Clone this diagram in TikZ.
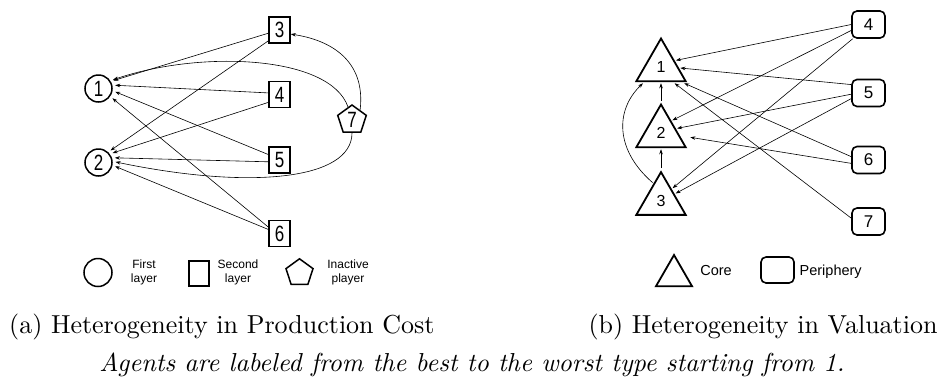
\documentclass[tikz,border=0pt]{standalone}
\usepackage{fontspec}
\newfontfamily\arialf{Liberation Sans}
\usetikzlibrary{arrows.meta,shapes.geometric}
\newcommand{\vst}[1]{\scalebox{1}[1.3]{#1}}
\begin{document}
\begin{tikzpicture}[x=1pt,y=-1pt,
  circ/.style={circle,draw,line width=1.5pt,minimum size=27pt,inner sep=0pt,font=\arialf\fontsize{17}{17}\selectfont},
  sq/.style={rectangle,draw,line width=1.6pt,minimum width=21pt,minimum height=26pt,inner sep=0pt,font=\arialf\fontsize{17}{17}\selectfont},
  pent/.style={regular polygon,regular polygon sides=5,draw,line width=1.5pt,minimum size=30pt,inner sep=0pt,font=\arialf\fontsize{17}{17}\selectfont},
  tri/.style={regular polygon,regular polygon sides=3,draw,line width=1.8pt,minimum size=57pt,inner sep=0pt,font=\arialf\fontsize{16}{16}\selectfont},
  rbox/.style={rectangle,rounded corners=5pt,draw,line width=1.6pt,minimum width=33pt,minimum height=27pt,inner sep=0pt,font=\arialf\fontsize{17}{17}\selectfont},
  edge/.style={-{Stealth[length=5pt,width=3.5pt]},line width=0.6pt},
  leg/.style={align=center,font=\arialf\fontsize{12}{14}\selectfont},
  legb/.style={font=\arialf\fontsize{14.5}{16}\selectfont},
  captxt/.style={font=\fontsize{10}{12}\selectfont,inner sep=0pt,scale=2.6}
]
\useasboundingbox (0,0) rectangle (939,376);
% ---------- left panel ----------
\node[circ,outer sep=3.5pt] (c1) at (98.5,88.5) {\vst{1}};
\node[circ,outer sep=3.5pt] (c2) at (98.5,162.5) {\vst{2}};
\node[sq] (s3) at (279.5,30) {\vst{3}};
\node[sq] (s4) at (279.5,94.5) {\vst{4}};
\node[sq] (s5) at (279.5,160) {\vst{5}};
\node[sq] (s6) at (279.5,233.5) {\vst{6}};
\node[pent] (p7) at (352,120) {\vst{7}};

\draw[edge] (s3.196) -- (c1.28);
\draw[edge] (s3.224) -- (c2.45);
\draw[edge] (s4.172) -- (c1.11);
\draw[edge] (s4.215) -- (c2.34);
\draw[edge] (s5.154) -- (c1.-11);
\draw[edge] (s5.189) -- (c2.16);
\draw[edge] (s6.150) -- (c1.-35);
\draw[edge] (s6.160) -- (c2.-13);
\draw[edge] (p7.107) .. controls (330,55) and (200,50) .. (c1.31);
\draw[edge] (p7.-90) .. controls (352,180) and (250,190) .. (c2.2);
\draw[edge] (p7.51) .. controls (366,60) and (330,40) .. (s3.-20);

% legend left
\node[circ,minimum size=28pt] (lc) at (98,272.5) {};
\node[leg] (lct) at (144,272) {First\\layer};
\node[sq,minimum width=20pt,minimum height=25pt] (ls) at (199,273.5) {};
\node[leg] (lst) at (238,272) {Second\\layer};
\node[pent,minimum size=28.4pt] (lp) at (299.5,273) {};
\node[leg] (lpt) at (348,272) {Inactive\\player};

% ---------- right panel ----------
\node[tri,outer sep=2pt] (t1) at (661,67) {1};
\node[tri,outer sep=2pt] (t2) at (661,133) {2};
\node[tri,outer sep=2pt] (t3) at (661,200.6) {3};
\node[rbox] (b4) at (868.5,24.5) {4};
\node[rbox] (b5) at (868.5,93) {5};
\node[rbox] (b6) at (868.5,160) {6};
\node[rbox] (b7) at (868.5,221.5) {7};

\draw[edge] (t2.corner 1) -- (t1.side 2);
\draw[edge] (t3.corner 1) -- (t2.side 2);
\draw[edge] (t3.115) .. controls (615,150) and (615,110) .. (t1.222);
\draw[edge] (b4.180) -- (t1.24);
\draw[edge] (b4.199) -- (t2.48);
\draw[edge] (b4.222) -- (t3.47);
\draw[edge] (b5.154) -- (t1.-3);
\draw[edge] (b5.184) -- (t2.16);
\draw[edge] (b5.198) -- (t3.26);
\draw[edge] (b6.169) -- (t1.-35);
\draw[edge,shorten >=9pt] (b6.191) -- (t2.-8);
\draw[edge] (b7.169) -- (t1.-50);

% legend right
\node[tri,minimum size=41.6pt] (lt) at (674,275.8) {};
\node[legb] (ltt) at (716,270) {Core};
\node[rbox,minimum height=26pt] (lb) at (777.5,270) {};
\node[legb] (lbt) at (830.7,271.7) {Periphery};

% ---------- captions ----------
\node[captxt,anchor=base east] (capa) at (435,333) {(a) Heterogeneity in Production Cost};
\node[captxt,anchor=base east] (capb) at (938,333) {(b) Heterogeneity in Valuation};
\node[captxt,anchor=base] (note) at (472,371.5) {\itshape Agents are labeled from the best to the worst type starting from 1.};
\end{tikzpicture}
\end{document}
